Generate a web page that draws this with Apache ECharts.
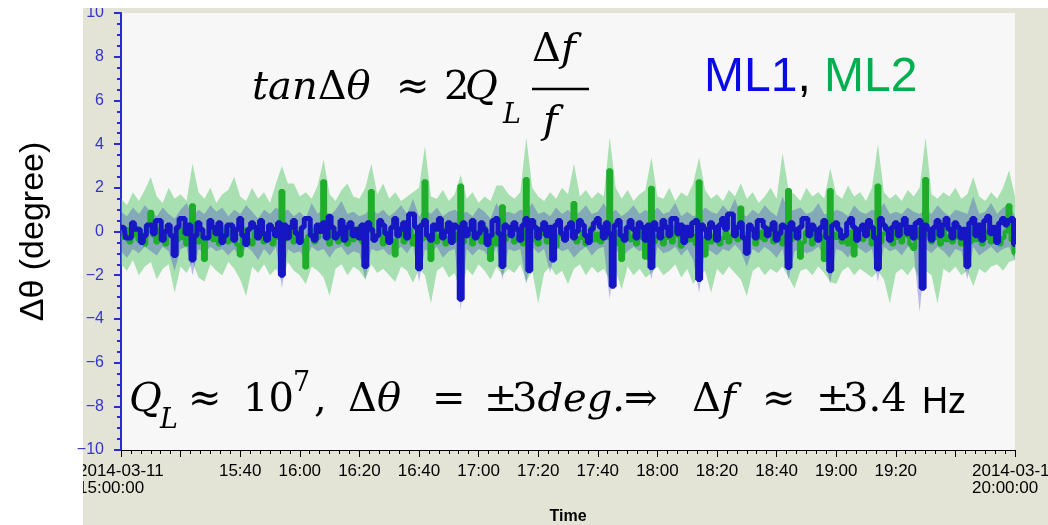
<!DOCTYPE html>
<html>
<head>
<meta charset="utf-8">
<script src="https://cdn.jsdelivr.net/npm/echarts@6/dist/echarts.min.js"></script>
<style>
html,body{margin:0;padding:0;background:#fff;}
#chart{width:1048px;height:525px;}
</style>
</head>
<body>
<div id="chart"></div>
<script>
// ---- data (degrees) from 2014-03-11 15:00 to 20:00 ----
const lineStepMinutes = 1;   // ML1 / ML2 averaged traces: one value per minute
const bandStepMinutes = 2;   // min/max envelopes: one value every 2 minutes
const xTickLabels = ['2014-03-11\n15:00:00','', '15:40','16:00','16:20','16:40','17:00','17:20','17:40','18:00','18:20','18:40','19:00','19:20','','2014-03-11\n20:00:00'];
const yTickValues = [-10,-8,-6,-4,-2,0,2,4,6,8,10];

const ml1 = [
 0.2,0.2,-0.3,-0.3,0.4,0.1,0.1,-0.5,-0.2,0.3,
 0.3,-0.1,0.5,0.5,-0.4,0.0,0.3,-0.2,-1.1,0.2,
 0.6,0.6,-0.1,0.3,-1.3,-0.2,0.4,0.1,-0.3,-0.3,
 0.5,0.2,-0.1,0.4,-0.5,-0.2,0.3,0.3,-0.4,0.1,
 0.6,-0.2,-0.6,0.1,0.4,0.2,-0.3,0.5,-0.1,-0.4,
 0.3,0.1,-0.2,0.4,-2.0,0.3,-0.3,0.2,0.5,-0.1,
 -0.5,0.2,0.6,0.6,-0.2,-0.4,0.3,0.0,0.4,-0.3,
 0.7,0.2,-0.3,-0.1,0.5,-0.4,0.2,0.4,-0.2,0.1,
 -0.3,0.3,-1.6,0.4,0.1,-0.4,-0.2,0.5,0.3,-0.1,
 -0.5,0.2,0.6,-0.2,0.1,0.4,-0.3,0.8,0.8,0.2,
 -1.7,0.3,0.5,-0.2,-0.4,0.3,0.1,0.6,-0.3,0.0,
 0.4,-0.5,0.3,0.2,-3.1,0.4,-0.2,0.1,0.5,-0.3,
 -0.1,0.4,0.1,-0.6,-0.2,0.5,0.6,-0.1,-1.6,0.3,
 0.2,-0.2,0.4,0.1,-0.4,0.3,0.6,-1.8,0.5,0.2,
 -0.3,0.1,0.4,-0.2,0.2,-1.3,0.3,0.5,-0.1,-0.4,
 0.2,0.4,-0.3,0.0,0.5,0.3,-0.2,-0.5,0.1,0.4,
 0.6,0.2,-0.3,0.4,-0.1,-2.5,0.3,0.5,-0.2,-0.4,
 0.2,0.5,0.1,-0.3,0.4,0.2,-0.4,0.3,-1.65,0.4,
 0.1,-0.3,0.5,0.2,-0.2,0.6,0.6,-0.1,0.3,-0.5,
 0.2,-0.2,0.4,0.5,-2.2,0.3,0.1,-0.3,0.4,0.2,
 -0.4,0.3,0.6,0.1,0.8,0.8,-0.2,0.2,0.4,-0.3,
 -1.0,0.3,0.1,-0.3,0.5,0.5,0.2,-0.2,0.1,0.4,
 -0.4,-0.1,0.3,0.2,-1.65,0.4,0.1,-0.3,0.2,0.6,
 0.6,-0.2,0.3,0.1,-0.4,0.2,0.5,-0.3,-1.8,0.3,
 0.4,0.1,-0.3,-0.2,0.4,0.6,0.2,-0.4,0.1,0.3,
 -0.2,0.5,0.2,-0.3,-1.7,0.6,0.3,0.1,-0.4,0.2,
 0.4,-0.2,0.3,0.6,-0.1,0.2,-0.3,0.4,0.5,-2.6,
 0.3,0.1,-0.4,0.2,0.5,-0.2,0.3,0.6,0.1,-0.3,
 0.4,0.2,-0.3,0.1,-1.6,0.4,0.6,-0.2,0.3,-0.4,
 0.5,0.7,-0.1,0.2,-0.5,0.4,0.6,0.3,0.5,0.6,
 -0.6
];
const ml2 = [
 -0.3,-0.3,0.1,-0.5,-0.2,0.2,-0.4,-0.1,-0.6,0.0,
 0.9,-0.2,-0.5,0.1,-0.3,-0.6,0.2,-0.2,-1.0,-0.4,
 0.1,-0.3,-0.6,0.0,1.2,-0.2,-0.5,0.1,-1.3,-0.3,
 0.2,-0.4,-0.1,-0.6,0.1,-0.3,-0.5,0.2,-0.2,-0.6,
 -1.1,-0.2,0.1,-0.4,-0.6,0.0,-0.3,0.2,-0.5,-0.2,
 0.1,-0.6,-0.3,0.0,1.85,-0.4,-0.2,0.1,-0.5,-0.3,
 0.0,-0.4,-1.65,-0.2,0.1,-0.5,-0.3,0.2,2.3,-0.2,
 -0.6,0.1,-0.3,-0.5,0.0,-0.2,-0.6,0.1,-0.4,-0.2,
 0.2,-0.5,-0.3,0.0,1.85,-0.4,-0.2,0.1,-0.6,-0.3,
 0.0,-0.4,-1.1,-0.2,0.2,-0.5,-0.3,0.1,-0.6,-0.2,
 0.1,-0.4,2.3,-0.3,-1.3,0.0,-0.5,-0.2,0.1,-0.6,
 -0.3,0.2,-0.4,-0.1,2.1,-0.5,-0.2,0.1,-0.6,-0.3,
 0.0,-0.5,0.2,-0.3,-1.3,-0.1,-0.6,0.1,1.15,-0.4,
 -0.2,0.1,-0.5,-0.3,0.0,-0.6,2.4,-0.2,0.1,-0.4,
 -0.6,-0.1,0.2,-0.5,-0.3,0.0,-0.7,-0.2,0.1,-0.4,
 -0.2,0.1,1.3,-0.5,-0.3,0.0,-0.6,-0.2,0.2,-0.4,
 -0.1,-0.5,0.1,-0.3,2.8,-0.2,-0.6,0.0,-1.3,-0.3,
 0.1,-0.4,-0.2,-0.6,0.0,-0.3,-1.2,-0.1,2.0,-0.5,
 -0.2,0.1,-0.6,-0.3,0.0,-0.5,0.2,-0.2,-0.7,-0.1,
 0.1,-0.4,-0.2,-0.6,2.3,-0.3,-1.1,0.0,-0.5,-0.2,
 0.1,-0.6,-0.3,0.0,-0.5,-0.2,0.2,-0.4,1.1,-0.1,
 -0.5,-0.2,0.1,-0.6,-0.3,0.0,-0.4,-0.1,0.2,-0.5,
 -0.3,0.0,-0.6,-0.2,1.9,-0.4,0.1,-0.3,-1.2,-0.5,
 0.0,-0.2,-0.6,0.1,-0.4,-0.2,-1.3,-0.5,1.9,-0.1,
 -0.3,0.1,-0.5,-0.2,-0.6,0.0,-1.1,-0.3,0.1,-0.4,
 -0.2,0.0,-0.6,-0.3,2.1,-0.5,-0.1,0.2,-0.4,-0.6,
 0.0,-0.3,-0.5,0.1,-0.2,-0.6,-0.8,-0.3,0.1,-0.4,
 2.4,-0.2,-0.5,0.0,-0.3,-0.6,0.1,-0.4,-0.2,-0.5,
 0.1,-0.3,-0.6,0.0,-0.2,-0.5,0.2,-0.4,-0.1,-0.6,
 -0.3,0.0,-0.5,-0.2,0.1,-0.6,-0.3,0.0,1.2,-0.4,
 -1.0
];
const ml1Hi = [
 0.9,0.7,1.1,0.8,1.2,0.9,0.7,1.1,0.8,0.6,
 1.0,1.3,0.7,1.0,0.8,1.2,0.9,1.1,0.7,1.0,
 0.8,1.2,0.9,0.6,1.0,0.8,1.1,0.9,1.0,0.7,
 0.9,0.6,1.3,0.8,1.1,0.7,1.0,1.4,0.8,0.9,
 0.7,0.8,1.1,0.8,1.0,0.7,0.9,1.2,0.8,1.5,
 0.7,1.0,0.8,1.1,0.7,0.9,1.0,0.8,0.9,0.7,
 1.1,0.9,0.6,1.3,0.8,0.9,0.8,1.0,0.9,1.3,
 0.8,0.9,0.7,1.1,0.8,1.0,0.7,0.9,1.2,0.8,
 0.9,1.3,0.8,1.0,0.7,0.9,1.2,0.8,1.0,0.8,
 1.1,0.8,0.9,1.3,0.7,0.9,0.7,0.8,1.1,0.9,
 0.8,1.2,0.9,1.5,0.8,0.7,1.0,0.8,1.2,0.9,
 0.7,1.6,0.9,1.0,1.1,0.8,0.9,1.3,0.8,0.8,
 1.0,0.9,0.7,1.2,0.9,0.8,1.0,0.9,1.3,0.8,
 0.9,0.8,1.1,0.9,0.8,1.0,0.8,1.2,0.9,0.7,
 1.0,0.9,0.8,1.6,0.8,0.9,1.3,0.8,1.1,1.2,
 0.7
];
const ml1Lo = [
 -0.9,-1.2,-0.8,-1.0,-0.7,-0.9,-1.1,-0.7,-0.9,-1.8,
 -0.8,-0.7,-2.0,-0.8,-1.0,-0.7,-0.9,-0.8,-1.1,-0.8,
 -1.2,-0.7,-0.9,-1.3,-0.8,-1.1,-0.7,-2.6,-0.8,-1.0,
 -0.9,-1.3,-0.7,-0.9,-0.8,-1.2,-0.8,-0.7,-1.1,-0.9,
 -1.0,-2.2,-0.8,-0.9,-0.8,-1.1,-0.9,-0.7,-1.0,-0.6,
 -2.3,-0.8,-1.0,-0.7,-1.2,-0.9,-0.8,-3.6,-0.8,-1.1,
 -0.8,-0.9,-1.3,-0.7,-2.2,-0.8,-0.9,-0.8,-2.4,-0.7,
 -1.0,-0.8,-1.9,-0.7,-0.9,-0.8,-1.2,-0.9,-0.7,-1.1,
 -0.8,-0.7,-3.1,-0.8,-1.2,-0.9,-0.7,-0.9,-0.8,-2.2,
 -0.7,-1.0,-0.9,-0.7,-1.1,-0.8,-1.3,-2.8,-0.8,-0.9,
 -1.1,-0.8,-0.9,-0.6,-0.9,-1.6,-0.8,-1.0,-0.7,-0.9,
 -1.2,-0.8,-2.2,-0.9,-0.8,-1.0,-0.9,-0.7,-1.1,-2.4,
 -0.8,-0.9,-1.2,-0.7,-0.8,-1.0,-0.8,-2.3,-0.7,-0.9,
 -0.8,-1.1,-0.7,-0.9,-3.7,-0.8,-1.0,-0.7,-0.9,-1.2,
 -0.8,-0.9,-2.2,-0.7,-1.1,-0.9,-0.7,-1.0,-0.8,-0.7,
 -1.3
];
const ml2Hi = [
 1.5,1.2,1.8,1.4,1.9,2.5,1.6,1.3,2.0,1.5,
 1.7,1.4,3.1,1.8,1.5,2.0,1.3,1.7,1.9,2.5,
 1.6,1.4,2.0,1.5,1.8,1.3,2.2,3.0,2.2,2.2,
 1.6,1.8,1.5,2.1,3.3,1.7,1.4,1.9,2.2,1.6,
 1.5,2.0,3.1,1.7,2.2,1.5,1.8,1.4,1.6,1.8,
 2.0,3.9,1.6,1.5,1.9,1.4,1.7,2.6,1.5,1.8,
 1.3,1.6,1.4,2.1,2.1,1.7,1.5,1.8,4.3,2.0,
 1.6,1.4,1.8,1.5,2.0,1.7,3.1,1.6,1.9,1.5,
 1.8,1.6,4.3,2.0,1.5,1.9,1.4,1.7,1.9,3.4,
 1.6,1.5,2.0,1.4,1.8,1.6,2.2,3.4,1.9,1.5,
 1.7,1.4,1.9,1.6,2.2,1.5,1.8,1.3,1.6,2.0,
 1.5,3.6,1.9,1.7,1.4,2.0,1.6,1.8,1.5,2.9,
 1.7,1.5,2.1,1.6,1.8,1.4,2.0,4.0,1.8,1.5,
 1.7,1.4,1.9,1.6,2.0,4.3,1.7,1.5,1.8,1.6,
 2.0,1.5,1.7,2.5,1.6,1.4,1.8,1.5,2.0,2.8,
 1.6
];
const ml2Lo = [
 -1.5,-1.8,-1.3,-2.0,-1.6,-1.4,-2.2,-1.7,-1.5,-2.8,
 -1.6,-1.9,-1.4,-2.1,-2.3,-1.5,-1.8,-2.0,-1.4,-1.7,
 -2.2,-2.95,-1.6,-1.9,-1.5,-2.0,-1.7,-2.2,-1.4,-1.8,
 -2.0,-2.4,-1.6,-1.8,-2.1,-2.95,-1.7,-1.5,-2.0,-1.6,
 -1.8,-2.2,-1.5,-1.9,-1.7,-2.0,-2.3,-1.6,-1.8,-2.35,
 -1.7,-2.0,-3.3,-1.8,-1.6,-2.1,-1.9,-2.9,-1.7,-2.0,
 -1.5,-1.8,-2.2,-1.6,-2.0,-1.7,-1.9,-1.5,-2.3,-1.8,
 -3.3,-1.9,-1.6,-2.0,-1.8,-2.4,-1.7,-1.5,-2.0,-1.6,
 -1.9,-1.7,-2.2,-1.8,-2.65,-1.6,-2.0,-1.7,-2.1,-1.9,
 -1.6,-2.0,-1.8,-1.5,-2.1,-1.7,-2.4,-2.0,-1.8,-2.8,
 -1.7,-2.0,-1.6,-1.9,-2.2,-2.95,-1.8,-1.6,-2.0,-1.7,
 -1.9,-1.6,-2.1,-2.6,-1.8,-1.7,-2.0,-1.6,-1.9,-2.3,
 -2.4,-1.8,-1.6,-2.0,-1.7,-1.9,-2.1,-1.8,-2.2,-3.3,
 -1.9,-1.7,-2.0,-1.6,-2.2,-1.8,-2.0,-3.3,-1.7,-1.9,
 -1.6,-2.0,-1.8,-2.5,-1.7,-1.9,-1.6,-1.5,-1.8,-1.4,
 -1.3
];

// ---- build series data ----
const lineMinutes = ml1.map((_, i) => i * lineStepMinutes);
const bandMinutes = ml1Hi.map((_, i) => i * bandStepMinutes);
const pairs = arr => arr.map((v, i) => [lineMinutes[i], v]);

function bandSeries(name, hi, lo, color, z) {
  return {
    name: name, type: 'custom', silent: true, z: z, clip: true,
    data: [[0, 0]], encode: {x: 0, y: 1},
    renderItem: function (params, api) {
      const pts = [];
      for (let i = 0; i < hi.length; i++) pts.push(api.coord([bandMinutes[i], hi[i]]));
      for (let i = lo.length - 1; i >= 0; i--) pts.push(api.coord([bandMinutes[i], lo[i]]));
      return {type: 'polygon', shape: {points: pts}, style: {fill: color, stroke: null}};
    }
  };
}

const chart = echarts.init(document.getElementById('chart'), null, {renderer: 'canvas'});

const serif = "'DejaVu Serif', 'Liberation Serif', serif";
const sans = "'Liberation Sans', Arial, sans-serif";
const FS = 40;

function txt(x, y, text, opts) {
  opts = opts || {};
  return {
    type: 'text', x: x, y: y, z: 50, silent: true,
    style: Object.assign({
      text: text, fill: '#000', fontFamily: serif, fontSize: FS,
      fontStyle: 'normal', verticalAlign: 'middle', align: 'left'
    }, opts)
  };
}
function rtxt(x, y, text) {
  return {type: 'text', x: x, y: y, z: 50, silent: true, style: {text: text, rich: richMath, verticalAlign: 'middle'}};
}
const richMath = {
  i: {fontFamily: serif, fontStyle: 'italic', fontSize: FS, fill: '#000'},
  n: {fontFamily: serif, fontStyle: 'normal', fontSize: FS, fill: '#000'}
};

const option = {
  animation: false,
  backgroundColor: '#ffffff',
  grid: {left: 121, top: 13, right: 33, bottom: 75, show: true, backgroundColor: '#f7f7f7', borderWidth: 0, containLabel: false, outerBoundsMode: 'none'},
  xAxis: {
    type: 'value', min: 0, max: 300, interval: 20,
    name: 'Time', nameLocation: 'middle', nameGap: 59,
    nameTextStyle: {fontFamily: sans, fontSize: 16, fontWeight: 'bold', color: '#000'},
    axisLine: {show: true, onZero: false, lineStyle: {color: '#000', width: 1}},
    axisTick: {show: true, inside: false, length: 7, lineStyle: {color: '#000'}},
    minorTick: {show: true, splitNumber: 6, length: 4, lineStyle: {color: '#000'}},
    splitLine: {show: false},
    axisLabel: {
      color: '#000', fontFamily: sans, fontSize: 17, margin: 13, lineHeight: 17,
      showMinLabel: true, showMaxLabel: true, hideOverlap: false,
      formatter: function (v) {
        const s = xTickLabels[Math.round(v / 20)] || '';
        if (s.indexOf('\n') >= 0) return s.split('\n').map(t => '{d|' + t + '}').join('\n');
        return s;
      },
      rich: {d: {width: 86, align: 'left', fontFamily: sans, fontSize: 17, lineHeight: 17, color: '#000'}}
    }
  },
  yAxis: {
    type: 'value', min: -10, max: 10, interval: 2,
    name: 'Δθ (degree)', nameLocation: 'middle', nameGap: 70, nameRotate: 90,
    nameTextStyle: {fontFamily: sans, fontSize: 34, color: '#000'},
    axisLine: {show: true, onZero: false, lineStyle: {color: '#2b2bd0', width: 2}},
    axisTick: {show: true, inside: false, length: 7, lineStyle: {color: '#2b2bd0', width: 2}},
    minorTick: {show: true, splitNumber: 4, length: 4, lineStyle: {color: '#2b2bd0', width: 2}},
    splitLine: {show: false},
    axisLabel: {
      color: '#3434c8', fontFamily: sans, fontSize: 16, margin: 17,
      formatter: function (v) { return yTickValues.indexOf(v) >= 0 ? String(v).replace('-', '\u2212') : ''; }
    }
  },
  series: [
    bandSeries('ML2 range', ml2Hi, ml2Lo, 'rgba(70,195,90,0.45)', 1),
    bandSeries('ML1 range', ml1Hi, ml1Lo, 'rgba(60,60,200,0.33)', 2),
    {name: 'ML2', type: 'line', data: pairs(ml2), step: 'middle', symbol: 'none', lineStyle: {color: '#1fae2a', width: 4}, silent: true, z: 3},
    {name: 'ML1', type: 'line', data: pairs(ml1), step: 'middle', symbol: 'none', lineStyle: {color: '#1616c4', width: 5}, silent: true, z: 4}
  ],
  graphic: {
    elements: [
      {type: 'rect', z: -10, silent: true, shape: {x: 83, y: 8, width: 965, height: 517}, style: {fill: '#e4e4d6'}},
      {type: 'rect', z: 90, silent: true, shape: {x: 83, y: 0, width: 80, height: 8}, style: {fill: '#ffffff'}},
      {type: 'rect', z: 90, silent: true, shape: {x: 0, y: 455, width: 83, height: 70}, style: {fill: '#ffffff'}},
      // top formula: tanΔθ ≈ 2Q_L Δf/f
      rtxt(252, 89, '{i|tan}{n|Δ}{i|θ}'),
      txt(396, 89, '≈'),
      txt(444, 89, '2'),
      txt(465, 89, 'Q', {fontStyle: 'italic'}),
      txt(503, 116, 'L', {fontStyle: 'italic', fontSize: 27}),
      rtxt(532, 51, '{n|Δ}{i|f}'),
      {type: 'line', z: 50, silent: true, shape: {x1: 532, y1: 89, x2: 589, y2: 89}, style: {stroke: '#000', lineWidth: 2.5}},
      txt(543, 123, 'f', {fontStyle: 'italic'}),
      // ML1, ML2
      {type: 'text', x: 704, y: 78, z: 50, silent: true, style: {text: '{b|ML1}{k|, }{g|ML2}', verticalAlign: 'middle', rich: {
        b: {fontFamily: sans, fontSize: 48, fill: '#0a0ae6'},
        k: {fontFamily: sans, fontSize: 48, fill: '#000'},
        g: {fontFamily: sans, fontSize: 48, fill: '#00b050'}
      }}},
      // bottom formula: Q_L ≈ 10^7, Δθ = ±3deg. ⇒ Δf ≈ ±3.4 Hz
      txt(129, 401, 'Q', {fontStyle: 'italic'}),
      txt(160, 421, 'L', {fontStyle: 'italic', fontSize: 27}),
      txt(188, 401, '≈'),
      txt(243, 401, '10'),
      txt(293, 384, '7', {fontSize: 27}),
      txt(314, 401, ','),
      rtxt(348, 401, '{n|Δ}{i|θ}'),
      txt(432, 401, '='),
      txt(484, 401, '±'),
      rtxt(512, 401, '{n|3}{i|deg.}'),
      txt(624, 401, '⇒'),
      rtxt(692, 401, '{n|Δ}{i|f}'),
      txt(762, 401, '≈'),
      txt(816, 401, '±'),
      txt(843, 401, '3.4'),
      txt(922, 403, 'Hz', {fontFamily: sans, fontSize: 36})
    ]
  }
};
chart.setOption(option);
</script>
</body>
</html>
